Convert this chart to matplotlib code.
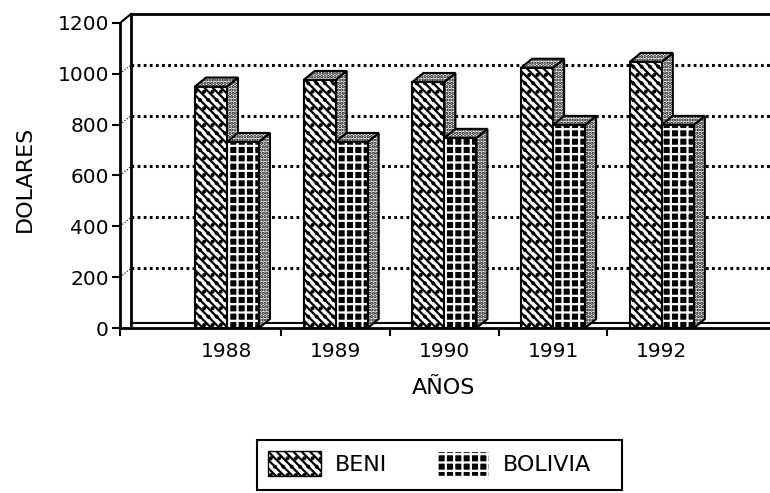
import matplotlib
matplotlib.use("Agg")
import matplotlib.pyplot as plt
from matplotlib.patches import Patch, Rectangle

years = ["1988", "1989", "1990", "1991", "1992"]
beni = [950, 976, 968, 1024, 1047]
bolivia = [732, 732, 748, 799, 799]

W, H = 770, 493
BAR_W = 32 / 108.7
DX = 11 / 108.7
DY = 9 / 0.254
HATCH_BENI = "\\\\\\\\.."
HATCH_BOL = "++"
HATCH_SIDE = "....."

plt.rcParams["font.family"] = "DejaVu Sans"
plt.rcParams["font.size"] = 16
plt.rcParams["hatch.linewidth"] = 1.6

fig = plt.figure(figsize=(W / 100, H / 100), dpi=100)
ax = fig.add_axes([120 / W, 1 - 328 / H, 650 / W, 305 / H])
x0, x1 = -0.984, 4.995
ax.set_xlim(x0, x1)
ax.set_ylim(0, 1200)

for s in ["top", "right"]:
    ax.spines[s].set_visible(False)
for s in ["left", "bottom"]:
    ax.spines[s].set_linewidth(2)

# back wall of the 3d box
ax.plot([x0 + DX, x0 + DX], [10, 1200 + DY], color="black", lw=2, clip_on=False, zorder=1)
ax.plot([x0 + DX, x1], [1200 + DY, 1200 + DY], color="black", lw=2, clip_on=False, zorder=1)
ax.plot([x0, x0 + DX], [1200, 1200 + DY], color="black", lw=1.5, clip_on=False, zorder=1)
ax.plot([x0 + DX, x1], [20, 20], color="black", lw=1.5, zorder=1)
for v in [200, 400, 600, 800, 1000]:
    ax.plot([x0 + DX, x1], [v + DY, v + DY], color="black", lw=2.2,
            linestyle=(0, (0.9, 1.1)), zorder=1)
    ax.plot([x0, x0 + DX], [v, v + DY], color="black", lw=0.8, linestyle=":", zorder=1)


def bar3d(left, height, hatch, face, hatch_color):
    right = left + BAR_W
    ax.fill([right, right + DX, right + DX, right],
            [0, DY, height + DY, height],
            facecolor="white", edgecolor="black", hatch=HATCH_SIDE, linewidth=1.5, zorder=3)
    ax.fill([left, left + DX, right + DX, right],
            [height, height + DY, height + DY, height],
            facecolor="white", edgecolor="black", hatch=HATCH_SIDE, linewidth=1.5, zorder=3)
    ax.bar(left, height, BAR_W, align="edge", facecolor=face, edgecolor=hatch_color,
           hatch=hatch, linewidth=0, zorder=3)
    ax.bar(left, height, BAR_W, align="edge", facecolor="none", edgecolor="black",
           linewidth=1.5, zorder=3)


for i in range(len(years)):
    bar3d(i - BAR_W, beni[i], HATCH_BENI, "white", "black")
    bar3d(i, bolivia[i], HATCH_BOL, "black", "white")

ax.set_yticks([0, 200, 400, 600, 800, 1000, 1200])
ax.tick_params(axis="y", length=6, width=1.5, pad=2, labelsize=14.5)
ax.set_xticks(range(len(years)))
ax.set_xticklabels(years)
ax.tick_params(axis="x", which="major", length=0, pad=10, labelsize=14.5)
ax.set_xticks([x0, 0.5, 1.5, 2.5, 3.5], minor=True)
ax.tick_params(axis="x", which="minor", length=6, width=1.5)

ax.set_xlabel("AÑOS", va="center")
ax.xaxis.set_label_coords(0.497, -0.197)
ax.set_ylabel("DOLARES", va="center")
ax.yaxis.set_label_coords(-0.146, 0.489)

handles = [
    Patch(facecolor="white", edgecolor="black", hatch=HATCH_BENI, label="BENI"),
    Patch(facecolor="black", edgecolor="white", hatch=HATCH_BOL, label="BOLIVIA"),
]
fig.legend(handles=handles, loc="upper left", bbox_to_anchor=(257 / W, 1 - 440 / H),
           ncol=2, borderaxespad=0, handlelength=2.4, handleheight=1.36,
           handletextpad=0.6, columnspacing=2.2, borderpad=0.5, frameon=False)
fig.add_artist(Rectangle((257 / W, 1 - 490 / H), 365 / W, 50 / H, transform=fig.transFigure,
                         facecolor="none", edgecolor="black", linewidth=1.5))

fig.savefig("out.png", dpi=100)
